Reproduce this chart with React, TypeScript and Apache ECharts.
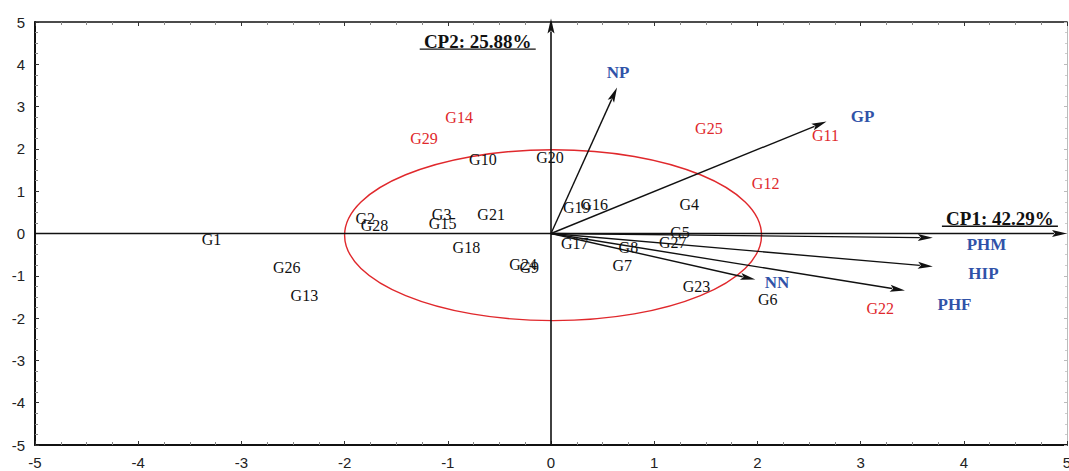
import React, { useEffect, useRef } from "react";
import * as echarts from "echarts";

// Genotype scores (CP1, CP2)
const genotypes = ["G1","G26","G13","G2","G28","G3","G15","G21","G18","G10","G20","G14","G29","G24","G9","G19","G16","G17","G8","G7","G5","G27","G4","G23","G6","G22","G25","G11","G12"];
const cp1 = [-3.29,-2.56,-2.39,-1.80,-1.71,-1.06,-1.05,-0.58,-0.82,-0.66,-0.01,-0.89,-1.23,-0.27,-0.21,0.25,0.42,0.23,0.75,0.69,1.25,1.18,1.34,1.41,2.10,3.19,1.53,2.66,2.08];
const cp2 = [-0.14,-0.80,-1.47,0.35,0.19,0.45,0.24,0.45,-0.33,1.75,1.80,2.74,2.25,-0.73,-0.80,0.61,0.69,-0.24,-0.33,-0.76,0.02,-0.21,0.69,-1.25,-1.56,-1.77,2.48,2.32,1.18];
const highlighted = ["G14","G29","G25","G11","G12","G22"];

// Variable loadings (arrow tips) and their label positions
const variables = ["NP","GP","PHM","HIP","PHF","NN"];
const varX = [0.64, 2.67, 3.70, 3.70, 3.43, 1.98];
const varY = [3.45, 2.65, -0.10, -0.78, -1.35, -1.09];
const varLabelX = [0.65, 3.02, 4.22, 4.19, 3.91, 2.19];
const varLabelY = [3.81, 2.77, -0.26, -0.95, -1.68, -1.16];

// Axis arrows (from -> to)
const axisArrowFrom = [[-5, 0], [0, -5]];
const axisArrowTo = [[5, 0], [0, 5.08]];

// Component titles
const axisTitles = ["CP1: 42.29%", "CP2: 25.88%"];
const axisTitleX = [4.35, -0.71];
const axisTitleY = [0.36, 4.55];

// Correlation circle: center and radius
const circleCenter = [0.02, -0.04];
const circleRadius = 2.02;

const RED = "#e0282c";
const BLUE = "#3052a8";

function arrowItem(headLen: number, headW: number, lw: number) {
  return (params: any, api: any) => {
    const p0 = api.coord([api.value(0), api.value(1)]);
    const p1 = api.coord([api.value(2), api.value(3)]);
    const dx = p1[0] - p0[0];
    const dy = p1[1] - p0[1];
    const len = Math.sqrt(dx * dx + dy * dy) || 1;
    const ux = dx / len, uy = dy / len;
    const bx = p1[0] - ux * headLen, by = p1[1] - uy * headLen;
    const nx = -uy, ny = ux;
    return {
      type: "group",
      children: [
        { type: "line", shape: { x1: p0[0], y1: p0[1], x2: bx + ux * 2, y2: by + uy * 2 }, style: { stroke: "#111", lineWidth: lw } },
        {
          type: "polygon",
          shape: { points: [[p1[0], p1[1]], [bx + nx * headW / 2, by + ny * headW / 2], [bx + ux * 3, by + uy * 3], [bx - nx * headW / 2, by - ny * headW / 2]] },
          style: { fill: "#111" },
        },
      ],
    };
  };
}

export default function App() {
  const ref = useRef<HTMLDivElement>(null);
  useEffect(() => {
    if (!ref.current) return;
    const chart = echarts.init(ref.current, null, { renderer: "svg" });
    const tickLabel = { fontFamily: "Liberation Sans", fontSize: 15, color: "#222" };
    const baseAxis = {
      type: "value" as const,
      min: -5,
      max: 5,
      interval: 1,
      splitLine: { show: false },
    };
    chart.setOption({
      animation: false,
      backgroundColor: "#fff",
      grid: { left: 35, right: 2, top: 22, bottom: 26, containLabel: false, outerBoundsMode: "none" },
      xAxis: [
        {
          ...baseAxis,
          position: "bottom",
          axisLine: { show: true, onZero: false, lineStyle: { color: "#111", width: 2 } },
          axisTick: { show: true, inside: true, length: 4, lineStyle: { color: "#333" } },
          minorTick: { show: true, splitNumber: 4, length: 3, lineStyle: { color: "#888" } },
          axisLabel: { ...tickLabel, margin: 10 },
        },
        {
          ...baseAxis,
          position: "top",
          axisLine: { show: true, onZero: false, lineStyle: { color: "#111", width: 1.5 } },
          axisTick: { show: true, inside: true, length: 4, lineStyle: { color: "#333" } },
          minorTick: { show: true, splitNumber: 4, length: 3, lineStyle: { color: "#888" } },
          axisLabel: { show: false },
        },
      ],
      yAxis: [
        {
          ...baseAxis,
          position: "left",
          axisLine: { show: true, onZero: false, lineStyle: { color: "#111", width: 2 } },
          axisTick: { show: true, inside: true, length: 4, lineStyle: { color: "#333" } },
          minorTick: { show: true, splitNumber: 4, length: 3, lineStyle: { color: "#888" } },
          axisLabel: { ...tickLabel, margin: 10 },
        },
        {
          ...baseAxis,
          position: "right",
          axisLine: { show: true, onZero: false, lineStyle: { color: "#bbb", width: 1 } },
          axisTick: { show: true, inside: true, length: 3, lineStyle: { color: "#bbb" } },
          minorTick: { show: true, splitNumber: 4, length: 2, lineStyle: { color: "#ccc" } },
          axisLabel: { show: false },
        },
      ],
      series: [
        {
          type: "custom",
          name: "circle",
          clip: false,
          silent: true,
          data: [[circleCenter[0], circleCenter[1], circleRadius]],
          renderItem: (params: any, api: any) => {
            const c = api.coord([api.value(0), api.value(1)]);
            const s = api.size([api.value(2), api.value(2)]);
            return {
              type: "ellipse",
              shape: { cx: c[0], cy: c[1], rx: s[0], ry: s[1] },
              style: { fill: "none", stroke: RED, lineWidth: 1.4 },
            };
          },
        },
        {
          type: "custom",
          name: "axes",
          clip: false,
          silent: true,
          data: axisArrowFrom.map((f, i) => [f[0], f[1], axisArrowTo[i][0], axisArrowTo[i][1]]),
          renderItem: arrowItem(15, 7, 1.6),
        },
        {
          type: "custom",
          name: "loadings",
          clip: false,
          silent: true,
          data: variables.map((_, i) => [0, 0, varX[i], varY[i]]),
          renderItem: arrowItem(15, 7, 1.4),
        },
        {
          type: "custom",
          name: "varLabels",
          clip: false,
          silent: true,
          data: variables.map((_, i) => [varLabelX[i], varLabelY[i]]),
          renderItem: (params: any, api: any) => {
            const p = api.coord([api.value(0), api.value(1)]);
            return {
              type: "text",
              x: p[0],
              y: p[1],
              style: {
                text: variables[params.dataIndex],
                fill: BLUE,
                font: "bold 17px 'Liberation Serif'",
                align: "center",
                verticalAlign: "middle",
              },
            };
          },
        },
        {
          type: "custom",
          name: "genotypes",
          clip: false,
          silent: true,
          data: genotypes.map((_, i) => [cp1[i], cp2[i]]),
          renderItem: (params: any, api: any) => {
            const p = api.coord([api.value(0), api.value(1)]);
            const name = genotypes[params.dataIndex];
            return {
              type: "text",
              x: p[0],
              y: p[1],
              style: {
                text: name,
                fill: highlighted.includes(name) ? RED : "#111",
                font: "16px 'Liberation Serif'",
                align: "center",
                verticalAlign: "middle",
              },
            };
          },
        },
        {
          type: "custom",
          name: "titles",
          clip: false,
          silent: true,
          data: axisTitles.map((_, i) => [axisTitleX[i], axisTitleY[i]]),
          renderItem: (params: any, api: any) => {
            const p = api.coord([api.value(0), api.value(1)]);
            return {
              type: "group",
              children: [
                {
                  type: "text",
                  x: p[0],
                  y: p[1],
                  style: {
                    text: axisTitles[params.dataIndex],
                    fill: "#111",
                    font: "bold 19px 'Liberation Serif'",
                    align: "center",
                    verticalAlign: "middle",
                  },
                },
                {
                  type: "line",
                  shape: { x1: p[0] - 58, y1: p[1] + 8, x2: p[0] + 58, y2: p[1] + 8 },
                  style: { stroke: "#111", lineWidth: 1.3 },
                },
              ],
            };
          },
        },
      ],
    });
    return () => chart.dispose();
  }, []);
  return (
    <div
      ref={ref}
      style={{ position: "fixed", left: 0, top: 0, width: 1069, height: 471, background: "#fff" }}
    />
  );
}
